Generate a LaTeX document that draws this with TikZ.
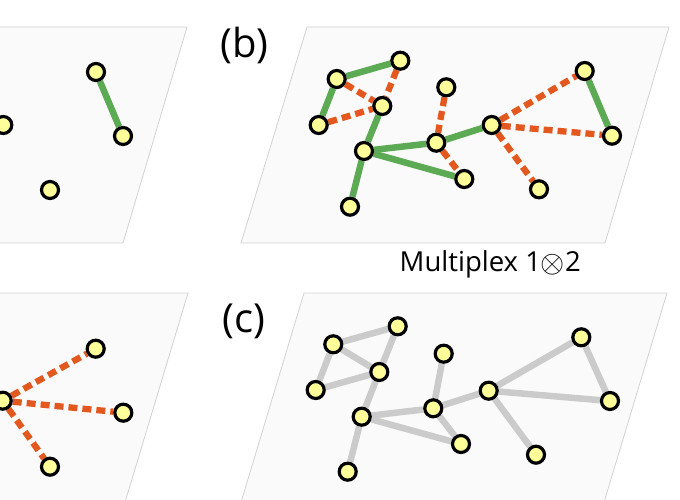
\documentclass[tikz,border=0pt]{standalone}
\usepackage{fontspec}
\setmainfont{Open Sans}
\definecolor{planefill}{HTML}{FAFAFA}
\definecolor{planeline}{HTML}{D2D2D2}
\definecolor{vtxfill}{HTML}{FFFF99}
\definecolor{edgegreen}{HTML}{5DAA55}
\definecolor{edgeorange}{HTML}{E3581F}
\definecolor{edgegray}{HTML}{CBCBCB}
\pgfdeclarelayer{bg}
\pgfdeclarelayer{edges}
\pgfsetlayers{bg,edges,main}
\begin{document}
\begin{tikzpicture}[x=1pt,y=-1pt,
  plane/.style={fill=planefill, draw=planeline, line width=0.8pt},
  vtx/.style={circle, draw=black, fill=vtxfill, line width=3.2pt, minimum size=17pt, inner sep=0pt},
  layA/.style={draw=edgegreen, line width=6.5pt},
  layB/.style={draw=edgeorange, line width=6.3pt, dash pattern=on 9pt off 5pt},
  agg/.style={draw=edgegray, line width=6.5pt},
  lbl/.style={font=\fontsize{40}{44}\selectfont, inner sep=0pt}
]
\useasboundingbox (0,0) rectangle (680,500);
\clip (0,0) rectangle (680,500);
\begin{pgfonlayer}{bg}
\fill[white] (0,0) rectangle (680,500);
% planes
\path[plane] (-175,27) -- (187,27) -- (123,243) -- (-241,243) -- cycle;
\path[plane] (307,27) -- (669,27) -- (605,243) -- (241,243) -- cycle;
\path[plane] (-175,293) -- (188,293) -- (123,509) -- (-241,509) -- cycle;
\path[plane] (304,293) -- (667,293) -- (602,509) -- (239,509) -- cycle;
\end{pgfonlayer}

% labels
\node[lbl] (lb) at (244.5,45.5) {(b)};
\node[lbl] (lc) at (244,321.5) {(c)};
\node[font=\fontsize{27.5}{31}\selectfont, inner sep=0pt, anchor=base west] (mx) at (399.5,271.5) {Multiplex 1\kern-0.5pt\raisebox{-0.6pt}{\scalebox{1.25}{$\otimes$}}\kern0.5pt2};

% panel a
\node[vtx] (a1) at (96,72) {};
\node[vtx] (a2) at (123,136) {};
\node[vtx] (a3) at (3.3,125) {};
\node[vtx] (a4) at (50,190) {};

% panel b
\node[vtx] (b1) at (336.7,79) {};
\node[vtx] (b2) at (400.3,60.7) {};
\node[vtx] (b3) at (382.3,106) {};
\node[vtx] (b4) at (318.7,125) {};
\node[vtx] (b5) at (364,151) {};
\node[vtx] (b6) at (350,206.7) {};
\node[vtx] (b7) at (446.3,87.3) {};
\node[vtx] (b8) at (436.3,142.7) {};
\node[vtx] (b9) at (464.3,179) {};
\node[vtx] (b10) at (491.7,125) {};
\node[vtx] (b11) at (584.7,71) {};
\node[vtx] (b12) at (612,135.7) {};
\node[vtx] (b13) at (539,189.3) {};

% panel d (bottom left)
\node[vtx] (d1) at (95.7,348.7) {};
\node[vtx] (d2) at (2.7,400.7) {};
\node[vtx] (d3) at (123.3,412.7) {};
\node[vtx] (d4) at (50,466.7) {};

% panel c
\node[vtx] (c1) at (333.3,344.3) {};
\node[vtx] (c2) at (397.7,326.3) {};
\node[vtx] (c3) at (379.3,372) {};
\node[vtx] (c4) at (315.7,390) {};
\node[vtx] (c5) at (361.7,416.7) {};
\node[vtx] (c6) at (347.7,471.7) {};
\node[vtx] (c7) at (443.7,353.7) {};
\node[vtx] (c8) at (433.3,408.3) {};
\node[vtx] (c9) at (461,444) {};
\node[vtx] (c10) at (488.7,390.7) {};
\node[vtx] (c11) at (581.3,337.3) {};
\node[vtx] (c12) at (610,401) {};
\node[vtx] (c13) at (536,454.7) {};

\begin{pgfonlayer}{edges}
% a
\draw[layA] (a1) -- (a2);
% b green
\draw[layA] (b1) -- (b2);
\draw[layA] (b1) -- (b4);
\draw[layA] (b3) -- (b5);
\draw[layA] (b5) -- (b6);
\draw[layA] (b5) -- (b8);
\draw[layA] (b5) -- (b9);
\draw[layA] (b8) -- (b10);
\draw[layA] (b11) -- (b12);
% b orange
\draw[layB] (b1) -- (b3);
\draw[layB] (b4) -- (b3);
\draw[layB] (b2) -- (b3);
\draw[layB] (b7) -- (b8);
\draw[layB] (b8) -- (b9);
\draw[layB] (b10) -- (b11);
\draw[layB] (b10) -- (b12);
\draw[layB] (b10) -- (b13);
% d
\draw[layB] (d2) -- (d1);
\draw[layB] (d2) -- (d3);
\draw[layB] (d2) -- (d4);
% c aggregate
\draw[agg] (c1) -- (c2);
\draw[agg] (c1) -- (c4);
\draw[agg] (c1) -- (c3);
\draw[agg] (c4) -- (c3);
\draw[agg] (c2) -- (c3);
\draw[agg] (c3) -- (c5);
\draw[agg] (c5) -- (c6);
\draw[agg] (c5) -- (c8);
\draw[agg] (c5) -- (c9);
\draw[agg] (c8) -- (c9);
\draw[agg] (c7) -- (c8);
\draw[agg] (c8) -- (c10);
\draw[agg] (c10) -- (c11);
\draw[agg] (c10) -- (c12);
\draw[agg] (c11) -- (c12);
\draw[agg] (c10) -- (c13);
\end{pgfonlayer}
\end{tikzpicture}
\end{document}
